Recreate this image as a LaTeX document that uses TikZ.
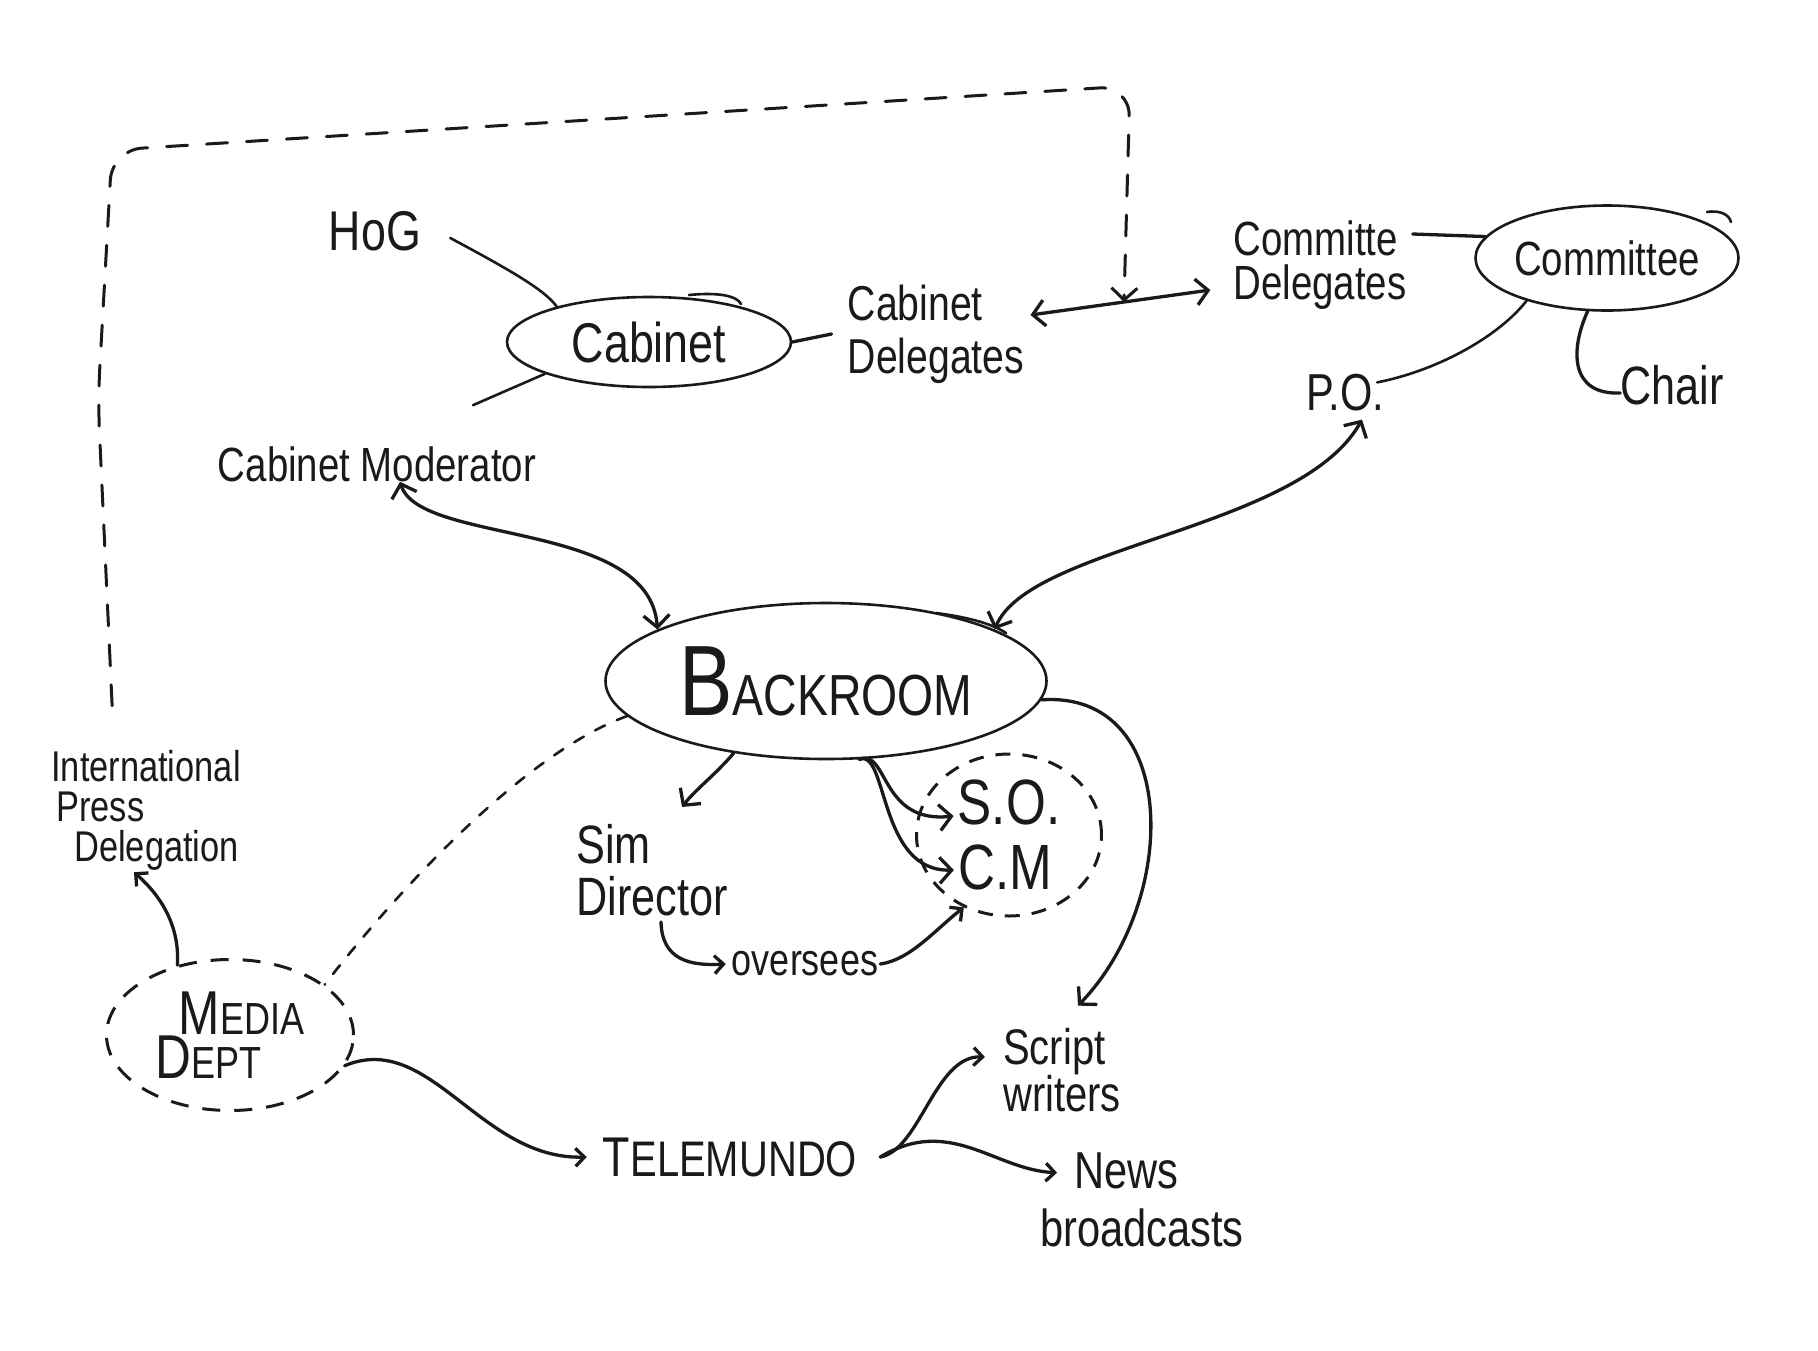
\documentclass[tikz,border=0pt]{standalone}
\usepackage{fontspec}
\setmainfont{Liberation Sans}[FakeStretch=0.8]
\usetikzlibrary{arrows.meta,shapes.geometric}
\definecolor{inkc}{HTML}{1C1A18}
\newcommand\fsz[2]{\fontsize{#1pt}{#2pt}\selectfont}
\tikzset{
  txt/.style={inner sep=0pt, text=inkc},
  ell/.style={ellipse, draw=inkc, line width=2.6pt, inner sep=0pt, text=inkc},
  ellline/.style={draw=inkc, line width=2.6pt, line cap=round},
  dell/.style={ellipse, draw=inkc, line width=3pt, dash pattern=on 18pt off 14pt, inner sep=0pt, text=inkc},
  link/.style={draw=inkc, line width=3.3pt, line cap=round},
  thinlink/.style={draw=inkc, line width=2.6pt, line cap=round},
  tip/.tip={Straight Barb[length=12pt,width=26pt]},
  smalltip/.tip={Straight Barb[length=9pt,width=18pt]},
  arr/.style={link, -tip},
  sarr/.style={link, -smalltip},
  darr/.style={link, tip-tip},
  loopdash/.style={draw=inkc, line width=3pt, dash pattern=on 21pt off 19pt, line cap=round},
  finedash/.style={draw=inkc, line width=2.6pt, dash pattern=on 11pt off 13pt, line cap=round},
}
\begin{document}
\begin{tikzpicture}[x=1pt,y=-1pt]
\useasboundingbox[fill=white] (0,0) rectangle (1818,1350);

% nodes
\node[txt, font=\fsz{56}{60}] (hog) at (375,231) {HoG};
\node[ell, minimum width=284pt, minimum height=90pt, font=\fsz{56}{60}] (cab) at (649,342) {Cabinet};
\node[txt, align=left, font=\fsz{49}{53}] (cabdel) at (936,334) {Cabinet\\Delegates};
\node[txt, font=\fsz{48}{52}] (cabmod) at (377,464) {Cabinet Moderator};
\node[txt, align=left, font=\fsz{48}{44}] (comdel) at (1320,265) {Committe\\Delegates};
\node[ell, minimum width=263pt, minimum height=105pt, font=\fsz{48}{52}] (com) at (1607,258) {Committee};
\node[txt, font=\fsz{54}{58}] (chair) at (1672,385) {Chair};
\node[txt, font=\fsz{52}{56}] (po) at (1345,393) {P.O.};
\node[ell, minimum width=441pt, minimum height=156pt] (back) at (826,681) {\fsz{100}{100}B\fsz{58}{58}ACKROOM};
\node[txt, align=left, font=\fsz{54}{52}] (simdir) at (652,870) {Sim\\Director};
\node[txt, font=\fsz{64}{64}, inner sep=4pt] (so) at (1009,802) {S.O.};
\node[txt, font=\fsz{64}{64}, inner sep=4pt] (cm) at (1005,867) {C.M};
\node[dell, dash pattern=on 15pt off 12pt, minimum width=185pt, minimum height=162pt] (socm) at (1009,835) {};
\node[txt, font=\fsz{45}{45}] (over) at (805,964) {oversees};
\node[txt, align=left, font=\fsz{43}{40}] (ipd) at (146,810) {International\\\hspace*{5pt}Press\\\hspace*{23pt}Delegation};
\node[dell, minimum width=247pt, minimum height=151pt, align=left] (media) at (230,1035)
  {\hspace*{23pt}\fsz{62}{63}M\fsz{45}{63}EDIA\\\fsz{62}{63}D\fsz{45}{63}EPT};
\node[txt] (tele) at (730,1157) {\fsz{56}{56}T\fsz{50}{50}ELEMUNDO};
\node[txt, align=left, font=\fsz{50}{40}] (script) at (1062,1070) {Script\\writers};
\node[txt, align=left, font=\fsz{52}{58}] (news) at (1142,1200) {\hspace*{34pt}News\\broadcasts};

% hand-drawn overshoots of the ellipse strokes
\draw[ellline] ([shift={(40pt,47pt)}]cab.center) .. controls ([shift={(70pt,50pt)}]cab.center) and ([shift={(88pt,46pt)}]cab.center) .. ([shift={(92pt,38pt)}]cab.center);
\draw[ellline] ([shift={(100pt,46pt)}]com.center) .. controls ([shift={(112pt,48pt)}]com.center) and ([shift={(122pt,44pt)}]com.center) .. ([shift={(124pt,36pt)}]com.center);
\draw[ellline] ([shift={(110pt,68pt)}]back.center) .. controls ([shift={(140pt,64pt)}]back.center) and ([shift={(165pt,58pt)}]back.center) .. ([shift={(180pt,48pt)}]back.center);

% plain links
\draw[thinlink] ([xshift=29pt,yshift=-7pt]hog.east) .. controls (510,270) and (545,290) .. (cab.159);
\draw[thinlink] ([xshift=96pt,yshift=41pt]cabmod.north) -- (cab.197);
\draw[link] (cab.east) -- ([xshift=-16pt]cabdel.west);
\draw[link] ([xshift=6pt,yshift=31pt]comdel.east) -- (com.170);
\draw[thinlink] (com.208) .. controls (1500,335) and (1440,370) .. ([xshift=-7pt,yshift=-8pt]po.north east);
\draw[link] (com.250) .. controls (1570,350) and (1570,395) .. ([yshift=-8pt]chair.west);

% delegates exchange
\draw[darr] ([xshift=6pt,yshift=19pt]cabdel.east) -- coordinate[pos=0.52] (mid) ([xshift=-23pt,yshift=-25pt]comdel.west);

% big dashed loop
\draw[loopdash, -tip, rounded corners=30pt] ([xshift=61pt,yshift=44pt]ipd.north west) -- (98,400) -- (112,150) -- (1130,86) -- (mid);

% backroom links
\draw[darr] ([xshift=23pt]cabmod.south) .. controls (420,545) and (650,520) .. (back.163);
\draw[darr] ([xshift=17pt,yshift=-8pt]po.south) .. controls (1300,530) and (1030,545) .. (back.17);
\draw[arr] (back.218) .. controls (715,775) and (695,790) .. ([xshift=30pt,yshift=17pt]simdir.north);
\draw[arr] (back.293) .. controls (888,748) and (880,824) .. ([yshift=-14pt]so.west);
\draw[arr] (back.293) .. controls (888,748) and (878,872) .. ([yshift=-3pt]cm.west);
\draw[arr] (back.355) .. controls (1180,690) and (1180,900) .. ([xshift=16pt,yshift=22pt]script.north);
\draw[finedash] (back.190) .. controls (520,755) and (390,900) .. (media.28);

% oversees
\draw[sarr] ([xshift=9pt,yshift=-6pt]simdir.south) .. controls (662,960) and (690,966) .. ([xshift=-6pt]over.west);
\draw[sarr] ([xshift=2pt]over.east) .. controls (910,960) and (935,930) .. (socm.238);

% media
\draw[sarr] (media.127) .. controls (180,925) and (160,895) .. ([xshift=-12pt,yshift=-2pt]ipd.south);
\draw[sarr] (media.345) .. controls (430,1030) and (480,1160) .. ([xshift=-16pt]tele.west);
\draw[sarr] ([xshift=23pt]tele.east) .. controls (920,1150) and (935,1055) .. ([xshift=-18pt,yshift=13pt]script.west);
\draw[sarr] ([xshift=23pt]tele.east) .. controls (950,1115) and (995,1170) .. ([xshift=17pt,yshift=-20pt]news.north west);
\end{tikzpicture}
\end{document}
